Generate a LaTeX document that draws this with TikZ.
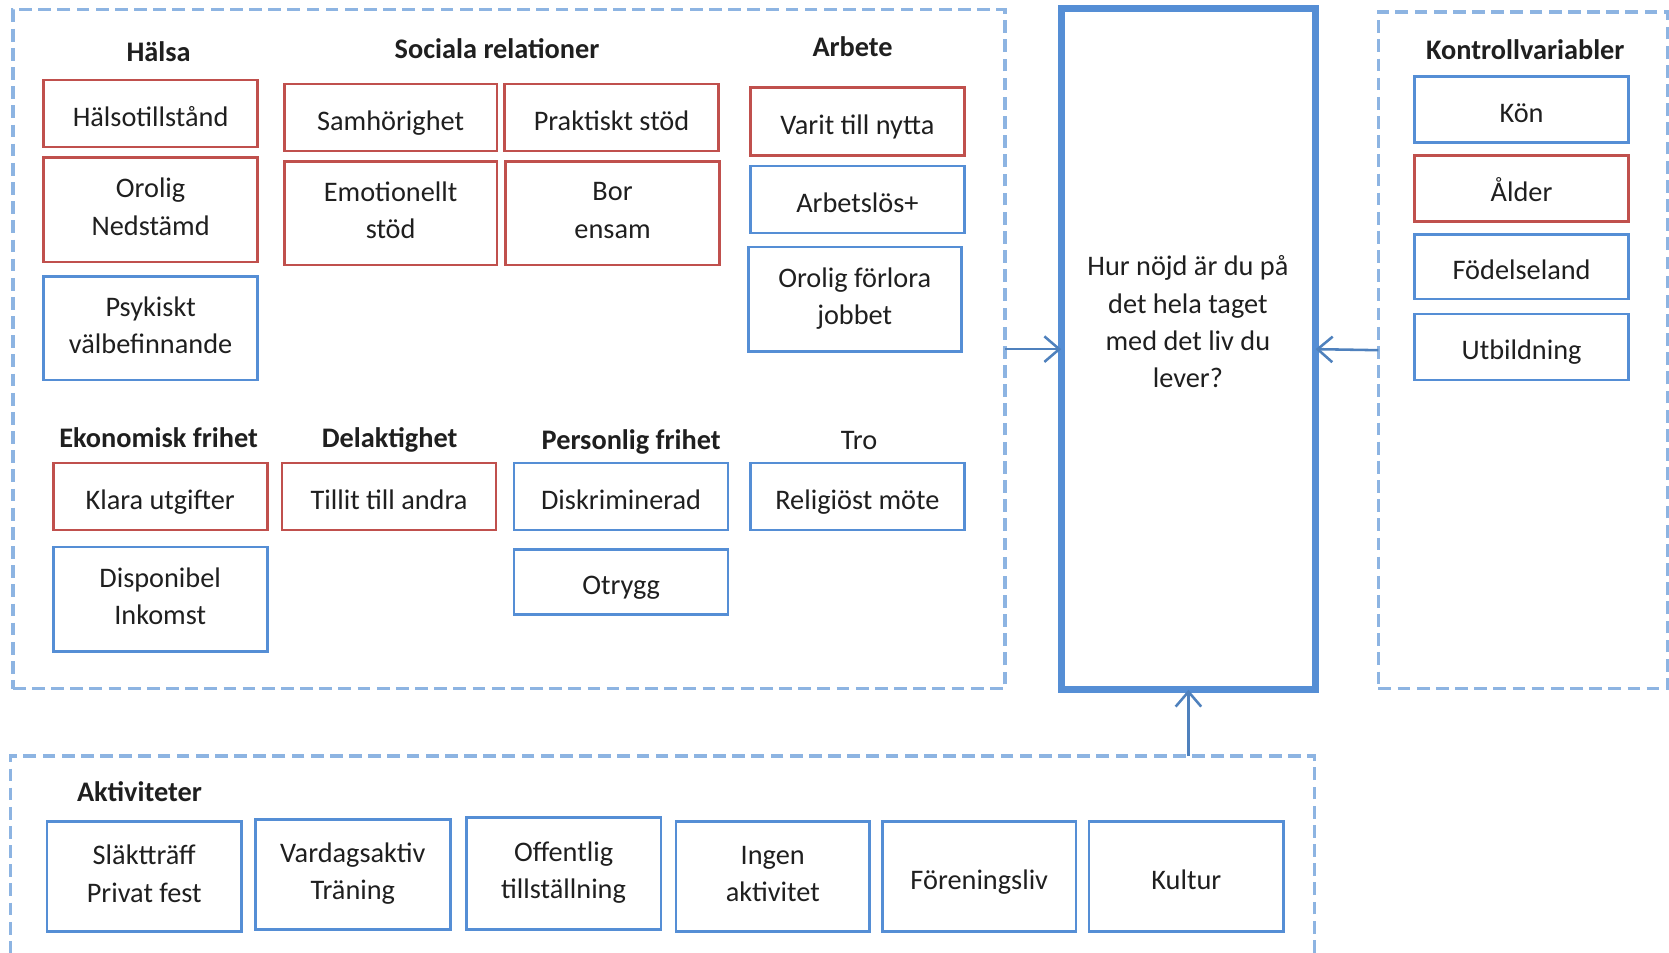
\documentclass[tikz,border=0pt]{standalone}
\usepackage{fontspec}
\setmainfont{Carlito}
\usetikzlibrary{arrows.meta}
\definecolor{bred}{HTML}{C0504D}
\definecolor{bblue}{HTML}{558ED5}
\definecolor{dblue}{HTML}{8DB4E2}
\definecolor{ablue}{HTML}{4F81BD}
\definecolor{txt}{HTML}{1F1F1F}
\newcommand\bx[7]{\node[#6, minimum width={(#4-#2)*0.5pt}, minimum height={(#5-#3)*0.5pt}] (#1) at ({(#2+#4)/2},{(#3+#5)/2}) {#7};}
\begin{document}
\begin{tikzpicture}[x=0.5pt,y=-0.5pt,
  every node/.style={font=\fontsize{13.3}{17.5}\selectfont, text=txt, inner sep=0pt, outer sep=0pt},
  strutted/.style={execute at begin node=\rule{0pt}{14.75pt}, execute at end node=\rule[-2.75pt]{0pt}{2.75pt}},
  redbox/.style={draw=bred, line width=1.25pt, align=center, strutted},
  bluebox/.style={draw=bblue, line width=1.25pt, align=center, strutted},
  group/.style={draw=dblue, line width=1.7pt, dash pattern=on 6pt off 3pt},
  mainbox/.style={draw=bblue, line width=3.2pt},
  head/.style={font=\fontsize{13.3}{17.5}\selectfont\bfseries, strutted},
  plainhead/.style={strutted},
  arr/.style={draw=ablue, line width=1.2pt, -{Straight Barb[length=7pt,width=12pt,line width=1.2pt]}}
]
\useasboundingbox (0,0) rectangle (1568,895);
% groups
\bx{main}{12}{9}{944}{647}{group}{}
\bx{ctrl}{1295}{11}{1567}{647}{group}{}
\bx{akt}{10}{710}{1235}{930}{group}{}
\bx{center}{997}{8}{1236}{648}{mainbox}{}
\node[align=center, strutted] (q) at (1116,305) {Hur nöjd är du på\\det hela taget\\med det liv du\\lever?};
% headings
\node[head] (hHalsa) at (149,46) {Hälsa};
\node[head] (hSoc) at (467,43) {Sociala relationer};
\node[head] (hArb) at (801,41) {Arbete};
\node[head] (hKon) at (1433,44) {Kontrollvariabler};
\node[head] (hEko) at (149,408) {Ekonomisk frihet};
\node[head] (hDel) at (366,408) {Delaktighet};
\node[head] (hPer) at (593,410) {Personlig frihet};
\node[plainhead] (hTro) at (807,410) {Tro};
\node[head] (hAkt) at (131,741) {Aktiviteter};
% Hälsa
\bx{b1}{41}{75}{242}{138}{redbox}{Hälsotillstånd}
\bx{b2}{41}{148}{242}{246}{redbox}{Orolig\\Nedstämd}
\bx{b3}{41}{260}{242}{357}{bluebox}{Psykiskt\\välbefinnande}
% Sociala
\bx{b4}{267}{79}{467}{142}{redbox}{Samhörighet}
\bx{b5}{474}{79}{675}{142}{redbox}{Praktiskt stöd}
\bx{b6}{267}{152}{467}{249}{redbox}{Emotionellt\\stöd}
\bx{b7}{475}{152}{676}{249}{redbox}{Bor\\ensam}
% Arbete
\bx{b8}{705}{82}{906}{146}{redbox}{Varit till nytta}
\bx{b9}{705}{156}{906}{219}{bluebox}{Arbetslös+}
\bx{b10}{703}{232}{903}{330}{bluebox}{Orolig förlora\\jobbet}
% Kontroll
\bx{k1}{1329}{72}{1530}{134}{bluebox}{Kön}
\bx{k2}{1329}{146}{1530}{208}{redbox}{Ålder}
\bx{k3}{1329}{220}{1530}{281}{bluebox}{Födelseland}
\bx{k4}{1329}{295}{1530}{357}{bluebox}{Utbildning}
% Ekonomisk etc
\bx{e1}{50}{435}{251}{498}{redbox}{Klara utgifter}
\bx{e2}{50}{514}{251}{612}{bluebox}{Disponibel\\Inkomst}
\bx{d1}{265}{435}{466}{498}{redbox}{Tillit till andra}
\bx{p1}{483}{435}{684}{498}{bluebox}{Diskriminerad}
\bx{p2}{483}{516}{684}{577}{bluebox}{Otrygg}
\bx{t1}{705}{435}{906}{498}{bluebox}{Religiöst möte}
% Aktiviteter
\bx{a1}{44}{772}{227}{875}{bluebox}{Släktträff\\Privat fest}
\bx{a2}{240}{770}{423}{873}{bluebox}{Vardagsaktiv\\Träning}
\bx{a3}{438}{768}{621}{873}{bluebox}{Offentlig\\tillställning}
\bx{a4}{635}{772}{817}{875}{bluebox}{Ingen\\aktivitet}
\bx{a5}{829}{772}{1011}{875}{bluebox}{Föreningsliv}
\bx{a6}{1023}{772}{1206}{875}{bluebox}{Kultur}
% arrows
\draw[arr] (main.east) -- (center.west);
\draw[arr] (ctrl.west) -- (center.east);
\draw[arr] (center.south |- akt.north) -- (center.south);
\end{tikzpicture}
\end{document}
